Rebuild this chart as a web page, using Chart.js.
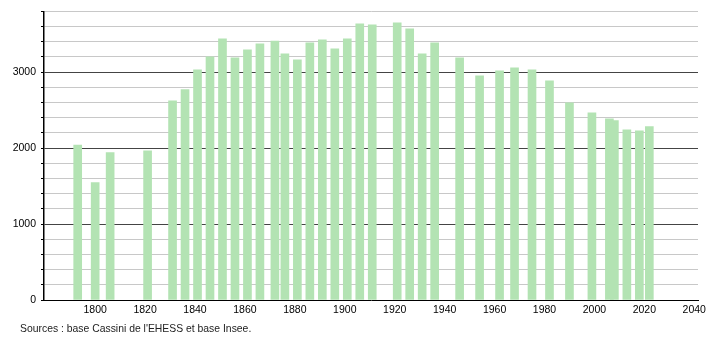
<!DOCTYPE html>
<html>
<head>
<meta charset="utf-8">
<script src="https://cdn.jsdelivr.net/npm/chart.js@4.4.1/dist/chart.umd.min.js"></script>
<style>
  html, body { margin: 0; padding: 0; background: #fff; }
  #wrap { position: relative; width: 710px; height: 340px; }
  #source {
    position: absolute; left: 20px; top: 323px;
    font: 10.4px 'Liberation Sans', Arial, sans-serif; color: #222;
  }
</style>
</head>
<body>
<div id="wrap">
  <canvas id="chartPop" width="710" height="340"></canvas>
  <div id="source">Sources : base Cassini de l'EHESS et base Insee.</div>
</div>
<script>
// census years and population
const years = [1793, 1800, 1806, 1821, 1831, 1836, 1841, 1846, 1851, 1856,
  1861, 1866, 1872, 1876, 1881, 1886, 1891, 1896, 1901, 1906,
  1911, 1921, 1926, 1931, 1936, 1946, 1954, 1962, 1968, 1975,
  1982, 1990, 1999, 2006, 2008, 2013, 2018, 2022];
const population = [2040, 1545, 1940, 1965, 2623, 2768, 3030, 3202, 3439, 3189,
  3294, 3373, 3408, 3241, 3162, 3386, 3425, 3307, 3439, 3636,
  3623, 3649, 3570, 3241, 3386, 3189, 2952, 3018, 3057, 3031,
  2886, 2596, 2465, 2386, 2360, 2241, 2228, 2281];
const xTicks = [1800, 1820, 1840, 1860, 1880, 1900, 1920, 1940, 1960, 1980, 2000, 2020, 2040];
const yLabels = [0, 1000, 2000, 3000];

Chart.defaults.font.family = "'Liberation Sans', Arial, sans-serif";
Chart.defaults.font.size = 10.5;
Chart.defaults.color = '#000';

const ctx = document.getElementById('chartPop').getContext('2d');
window.__chart = new Chart(ctx, {
  type: 'bar',
  data: {
    datasets: [{
      data: years.map(function(y, i) { return { x: y, y: population[i] }; }),
      backgroundColor: '#b3e3b3',
      borderWidth: 0,
      barThickness: 8,
    }]
  },
  options: {
    responsive: false, animation: false, devicePixelRatio: 1,
    layout: { padding: { top: 10, right: 10, left: 0, bottom: 0 } },
    plugins: { legend: { display: false }, tooltip: { enabled: false } },
    scales: {
      x: {
        type: 'linear', min: 1779.5, max: 2041.5, offset: false,
        afterBuildTicks: function(scale) {
          scale.ticks = xTicks.map(function(v) { return { value: v }; });
        },
        afterFit: function(scale) { scale.height = 40; },
        grid: { display: false, drawTicks: false },
        border: { color: '#000', width: 1 },
        ticks: { padding: 4, maxRotation: 0, autoSkip: false,
          callback: function(v) { return String(v); } }
      },
      y: {
        min: 0, max: 3800,
        afterFit: function(scale) { scale.width = 44; },
        border: { color: '#000', width: 1.5 },
        grid: {
          color: function(c) {
            if (c.tick.value === 0) return 'rgba(0,0,0,0)';
            return c.tick.value % 1000 === 0 ? '#444' : '#c8c8c8';
          },
          tickColor: '#000', tickLength: 3, lineWidth: 1
        },
        ticks: {
          stepSize: 200, padding: 5, autoSkip: false,
          callback: function(v) { return yLabels.indexOf(v) >= 0 ? String(v) : ''; }
        }
      }
    }
  }
});
</script>
</body>
</html>
